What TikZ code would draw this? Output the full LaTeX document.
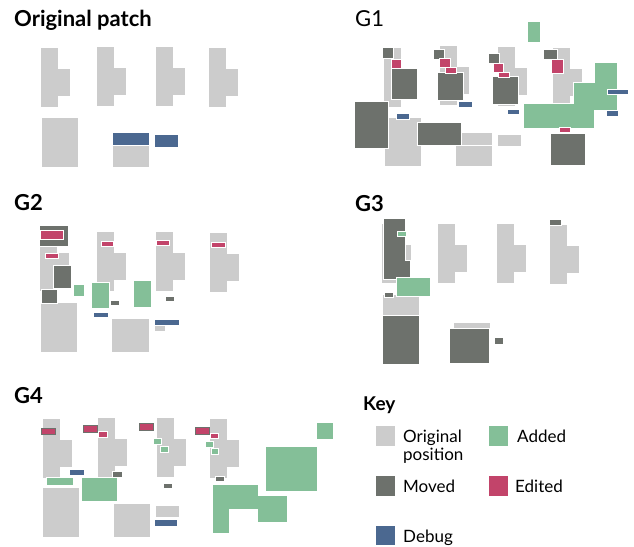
\documentclass[tikz,border=0pt]{standalone}
\usepackage{fontspec}
\setmainfont{Lato}
\definecolor{origc}{HTML}{CCCCCC}
\definecolor{movedc}{HTML}{6D716C}
\definecolor{addedc}{HTML}{84BF98}
\definecolor{editc}{HTML}{C2446A}
\definecolor{debugc}{HTML}{4B6890}

\begin{document}
\begin{tikzpicture}[x=1pt, y=-1pt,
  orig/.style={fill=origc, draw=white, line width=.4pt},
  moved/.style={fill=movedc, draw=white, line width=.4pt},
  added/.style={fill=addedc, draw=white, line width=.4pt},
  edited/.style={fill=editc, draw=white, line width=.4pt},
  movededit/.style={fill=editc, draw=movedc, line width=1pt},
  debug/.style={fill=debugc, draw=white, line width=.4pt},
  title/.style={anchor=base west, inner sep=0pt, font=\bfseries\fontsize{22}{26}\selectfont},
  keytext/.style={anchor=base west, inner sep=0pt, align=left, font=\fontsize{17}{18}\selectfont},
  tee/.pic={\path[orig] (0,0) -- (18,0) -- (18,21.5) -- (30,21.5) -- (30,49) -- (18,49) -- (18,60) -- (0,60) -- cycle;}]
\useasboundingbox (0,0) rectangle (634,546);

\node[title] (torig) at (14,27) {Original patch};
\pic at (40,47) {tee};
\pic at (96,46) {tee};
\pic at (155,46) {tee};
\pic at (208,47) {tee};
\path[orig] (41,117) rectangle (78,167);
\path[orig] (112,145) rectangle (149,167);
\path[debug] (112,132) rectangle (149,145);
\path[debug] (154,134) rectangle (178,147);

\node[title, font=\fontsize{22}{26}\selectfont] (tgone) at (355,26) {G1};
\path[added] (527,21) rectangle (540,42);
\pic at (383,47) {tee};
\pic at (439,45) {tee};
\pic at (497,46) {tee};
\pic at (552,47) {tee};
\path[orig] (384,117) rectangle (421,166);
\path[orig] (455,132) rectangle (492,145);
\path[orig] (455,145) rectangle (492,166);
\path[orig] (497,134) rectangle (521,146);
\path[moved] (382,47) rectangle (393,58);
\path[moved] (391,68) rectangle (417,99);
\path[moved] (433,49) rectangle (444,59);
\path[moved] (437,72) rectangle (463,100);
\path[moved] (488,53) rectangle (499,63);
\path[moved] (492,76) rectangle (518,104);
\path[moved] (543,49) rectangle (557,59);
\path[moved] (354,101) rectangle (388,148);
\path[moved] (417,122) rectangle (461,145);
\path[moved] (550,133) rectangle (585,165);
\path[added] (594,62) -- (617,62) -- (617,110) -- (594,110) -- (594,128) -- (523,128) -- (523,103) -- (573,103) -- (573,82) -- (594,82) -- cycle;
\path[edited] (391,59) rectangle (401,68);
\path[edited] (439,58) rectangle (450,67);
\path[edited] (445,67) rectangle (456,73);
\path[edited] (493,63) rectangle (503,72);
\path[edited] (498,72) rectangle (509,77);
\path[edited] (551,59) rectangle (563,73);
\path[edited] (559,127) rectangle (570,132);
\path[debug] (458,101) rectangle (472,107);
\path[debug] (507,109) rectangle (519,114);
\path[debug] (607,89) rectangle (628,94);
\path[debug] (606,110) rectangle (618,116);
\path[debug] (396,113) rectangle (409,119);

\node[title] (tgtwo) at (14,210) {G2};
\pic at (39,231) {tee};
\pic at (96,231) {tee};
\pic at (155,231) {tee};
\pic at (209,232) {tee};
\path[orig] (40,302) rectangle (77,352);
\path[orig] (111,318) rectangle (149,352);
\path[orig] (154,325) rectangle (165,331);
\path[moved] (39,225) rectangle (68,246);
\path[moved] (53,265) rectangle (71,288);
\path[moved] (41,289) rectangle (57,303);
\path[moved] (110,300) rectangle (119,305);
\path[moved] (165,296) rectangle (174,301);
\path[added] (73,284) rectangle (84,296);
\path[added] (91,282) rectangle (109,308);
\path[added] (133,280) rectangle (151,307);
\path[edited] (40,230) rectangle (63,239);
\path[edited] (45,253) rectangle (58,258);
\path[edited] (101,241) rectangle (113,246);
\path[edited] (156,240) rectangle (169,245);
\path[edited] (211,242) rectangle (225,247);
\path[debug] (93,312) rectangle (108,317);
\path[debug] (154,319) rectangle (179,325);

\node[title] (tgthree) at (355,211) {G3};
\pic at (381,223) {tee};
\pic at (437,223) {tee};
\pic at (496,223) {tee};
\pic at (549,224) {tee};
\path[orig] (382,294) rectangle (419,316);
\path[orig] (453,322) rectangle (490,334);
\path[moved] (383,218) -- (405,218) -- (405,260) -- (410,260) -- (410,279) -- (383,279) -- cycle;
\path[moved] (382,315) rectangle (419,364);
\path[moved] (449,328) rectangle (489,363);
\path[moved] (494,337) rectangle (503,344);
\path[moved] (384,292) rectangle (393,297);
\path[moved] (549,219) rectangle (561,225);
\path[added] (397,231) rectangle (406,236);
\path[added] (396,277) rectangle (430,296);

\node[title] (tgfour) at (14,403) {G4};
\pic at (42,418) {tee};
\pic at (97,417) {tee};
\pic at (156,417) {tee};
\pic at (209,418) {tee};
\path[orig] (42,487) rectangle (79,537);
\path[orig] (113,503) rectangle (150,537);
\path[orig] (155,505) rectangle (179,517);
\path[moved] (112,471) rectangle (122,477);
\path[moved] (163,483) rectangle (172,488);
\path[moved] (215,476) rectangle (224,481);
\path[added] (46,477) rectangle (73,485);
\path[added] (81,477) rectangle (117,501);
\path[added] (153,438) rectangle (161,444);
\path[added] (160,446) rectangle (168,452);
\path[added] (205,441) rectangle (213,447);
\path[added] (211,448) rectangle (218,454);
\path[added] (212,484) -- (258,484) -- (258,495) -- (287,495) -- (287,522) -- (257,522) -- (257,509) -- (229,509) -- (229,533) -- (212,533) -- cycle;
\path[added] (265,446) rectangle (317,491);
\path[added] (316,422) rectangle (333,439);
\path[movededit] (41,428) rectangle (55,434);
\path[movededit] (83,425) rectangle (97,432);
\path[movededit] (139,423) rectangle (153,430);
\path[movededit] (195,427) rectangle (209,434);
\path[edited] (98,431) rectangle (107,437);
\path[edited] (210,433) rectangle (218,438);
\path[debug] (69,469) rectangle (84,475);
\path[debug] (154,519) rectangle (177,526);

\node[title, font=\bfseries\fontsize{19}{22}\selectfont] (tkey) at (363,410) {Key};
\path[orig] (375,425) rectangle (395,446);
\path[added] (488,425) rectangle (508,446);
\path[moved] (375,475) rectangle (395,496);
\path[edited] (488,475) rectangle (508,496);
\path[debug] (375,525) rectangle (395,545);
\node[keytext] (korig) at (403,460) {Original\\position};
\node[keytext] (kadded) at (517,442) {Added};
\node[keytext] (kmoved) at (403,492) {Moved};
\node[keytext] (kedit) at (515,492) {Edited};
\node[keytext] (kdebug) at (403,542) {Debug};
\end{tikzpicture}
\end{document}
